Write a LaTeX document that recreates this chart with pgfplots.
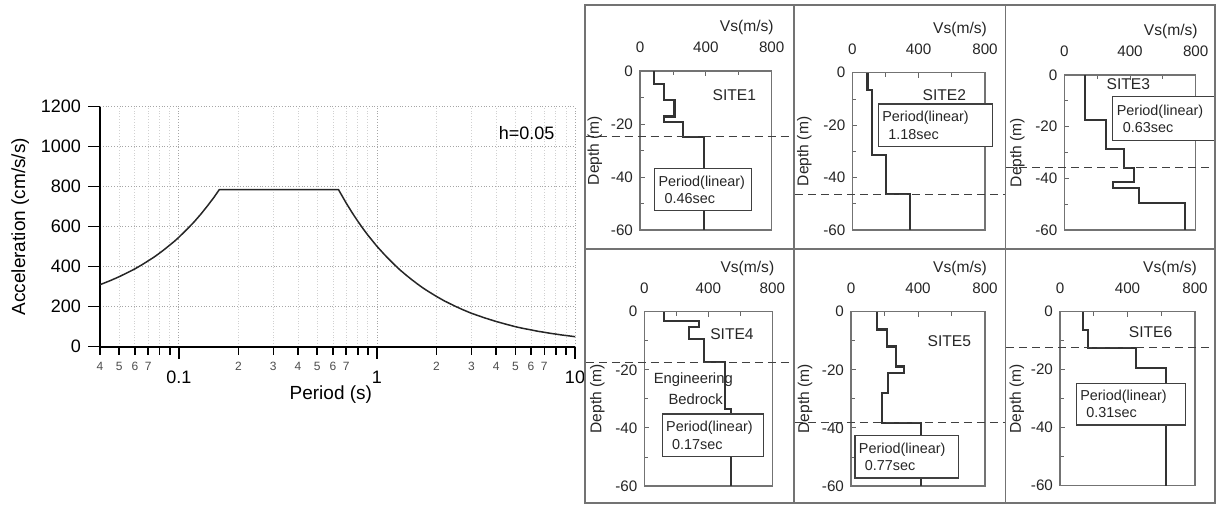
\documentclass[border=0pt]{standalone}
\usepackage{fontspec}
\setmainfont{Liberation Sans}
\usepackage{pgfplots}
\pgfplotsset{compat=1.18}
\tikzset{
  per/.style={draw=black!75, fill=white, line width=0.6pt, anchor=north west, inner xsep=2pt, inner ysep=0pt, align=left, font=\fontsize{7.2}{8.6}\selectfont, text=black!85},
  sitelab/.style={font=\fontsize{7.8}{9}\selectfont, text=black!85},
}
\begin{document}
\begin{tikzpicture}
\useasboundingbox (0,0) rectangle (608.5pt,-253pt);
\pgfplotsset{
  site/.style={
    scale only axis, anchor=north west,
    xmin=0, xmax=800, ymin=-60, ymax=0,
    xtick={0,400,800}, minor xtick={200,600},
    ytick={0,-20,-40,-60}, minor ytick={-10,-30,-50},
    xtick pos=right, xticklabel pos=right, ytick pos=left,
    tick align=inside,
    major tick length=2.5pt, minor tick length=2pt,
    every tick/.style={black!60, line width=0.4pt},
    axis line style={black!55, line width=0.6pt},
    tick label style={font=\fontsize{7.6}{9}\selectfont, text=black!85},
    /pgf/number format/assume math mode=true,
    /pgf/number format/1000 sep={},
    xticklabel style={anchor=base, yshift=9pt},
    xlabel={Vs(m/s)},
    xlabel style={at={(rel axis cs:1,1)}, anchor=base east, xshift=4.5pt, yshift=19.5pt, font=\fontsize{7.8}{9}\selectfont, text=black!85},
    ylabel={Depth (m)},
    ylabel style={font=\fontsize{7.8}{9}\selectfont, anchor=center, text=black!85},
    clip=false,
  },
  prof/.style={line width=1.1pt, black!80, no marks},
  bed/.style={line width=0.5pt, black!75, dash pattern=on 4pt off 2.5pt, no marks},
}
% ---------------- left spectrum ----------------
\begin{axis}[
  at={(50pt,-53.35pt)}, anchor=north west, scale only axis,
  width=237.5pt, height=120pt,
  xmode=log, xmin=0.04, xmax=10, ymin=0, ymax=1200,
  axis x line=bottom, axis y line=left,
  axis line style={-, line width=1pt, black},
  xtick={0.1,1,10}, xticklabels={0.1,1,10},
  minor xtick={0.04,0.05,0.06,0.07,0.08,0.09,0.2,0.3,0.4,0.5,0.6,0.7,0.8,0.9,2,3,4,5,6,7,8,9},
  ytick={0,200,400,600,800,1000,1200},
  tick align=outside, major tick length=6pt, minor tick length=4pt,
  every tick/.style={black, line width=0.8pt},
  grid=both,
  major grid style={densely dotted, black!35, line width=0.4pt},
  minor grid style={densely dotted, black!18, line width=0.4pt},
  tick label style={font=\fontsize{9}{10}\selectfont},
  /pgf/number format/assume math mode=true,
  /pgf/number format/1000 sep={},
  xticklabel style={yshift=-2.5pt},
  extra x ticks={0.04,0.05,0.06,0.07,0.2,0.3,0.4,0.5,0.6,0.7,2,3,4,5,6,7},
  extra x tick labels={4,5,6,7,2,3,4,5,6,7,2,3,4,5,6,7},
  extra x tick style={grid=none, major tick length=4pt, tick label style={yshift=2.5pt, font=\fontsize{6}{7}\selectfont, text=black!70}},
  xlabel={Period (s)}, ylabel={Acceleration (cm/s/s)},
  xlabel style={font=\fontsize{9.5}{11}\selectfont, at={(axis description cs:0.486,0)}, anchor=center, yshift=-24pt},
  ylabel style={font=\fontsize{9.5}{11}\selectfont, at={(axis description cs:-0.168,0.5)}, anchor=center},
]
\addplot[line width=0.75pt, black!85, no marks] coordinates {
(0.04,310)(0.045,330)(0.05,350)(0.055,370)(0.06,389)(0.065,409)(0.07,429)(0.075,448)(0.08,468)(0.085,488)(0.09,508)(0.095,527)(0.1,547)(0.11,587)(0.12,626)(0.13,666)(0.14,706)(0.15,745)(0.16,785)
(0.64,785)(0.7,718)(0.75,670)(0.8,628)(0.85,591)(0.9,558)(1,502)(1.1,457)(1.2,419)(1.3,386)(1.4,359)(1.5,335)(1.6,314)(1.7,295)(1.8,279)(2,251)(2.2,228)(2.5,201)(2.7,186)(3,167)(3.5,144)(4,126)(4.5,112)(5,100)(5.5,91)(6,84)(6.5,77)(7,72)(7.5,67)(8,63)(8.5,59)(9,56)(9.5,53)(10,50)};
\node[font=\fontsize{9}{10}\selectfont] at (axis cs:5.7,1068) {h=0.05};
\end{axis}
% ---------------- SITE1 ----------------
\begin{axis}[site, at={(320pt,-35.5pt)}, width=65.85pt, height=79.5pt, ylabel style={at={(axis description cs:-0.342,0.5)}}]
\addplot[prof] coordinates {(87,0)(87,-5)(148,-5)(148,-11)(209,-11)(209,-17.2)(148,-17.2)(148,-19.1)(259,-19.1)(259,-24.8)(389,-24.8)(389,-60)};
\addplot[bed] coordinates {(-330,-24.8)(930,-24.8)};
\node[sitelab] at (axis cs:573,-9.2) {SITE1};
\node[per, text width=44.5pt, minimum height=21.2pt] at (axis cs:85,-36.5) {Period(linear)\\\hspace*{3pt}0.46sec};
\end{axis}
% ---------------- SITE2 ----------------
\begin{axis}[site, at={(426.15pt,-36.35pt)}, width=66.35pt, height=78.65pt, ylabel style={at={(axis description cs:-0.362,0.5)}}]
\addplot[prof] coordinates {(92,0)(92,-6.6)(121,-6.6)(121,-31.4)(201,-31.4)(201,-46.4)(348,-46.4)(348,-60)};
\addplot[bed] coordinates {(-345,-46.4)(920,-46.4)};
\node[sitelab] at (axis cs:555,-8.7) {SITE2};
\node[per, text width=53pt, minimum height=21.3pt] at (axis cs:153,-11.7) {Period(linear)\\\hspace*{3pt}1.18sec};
\end{axis}
% ---------------- SITE3 ----------------
\begin{axis}[site, at={(532.15pt,-37.5pt)}, width=65.7pt, height=77.5pt, ylabel style={at={(axis description cs:-0.358,0.5)}}]
\addplot[prof] coordinates {(126,0)(126,-17.4)(252,-17.4)(252,-28.5)(363,-28.5)(363,-35.9)(426,-35.9)(426,-41.3)(298,-41.3)(298,-43.6)(457,-43.6)(457,-49.7)(735,-49.7)(735,-60)};
\addplot[bed] coordinates {(-352,-35.9)(912,-35.9)};
\node[sitelab] at (axis cs:390,-3.4) {SITE3};
\node[per, text width=47.3pt, minimum height=22pt] at (axis cs:292,-8.1) {Period(linear)\\\hspace*{3pt}0.63sec};
\end{axis}
% ---------------- SITE4 ----------------
\begin{axis}[site, at={(322.15pt,-155.85pt)}, width=64pt, height=87.15pt, ylabel style={at={(axis description cs:-0.367,0.5)}}]
\addplot[prof] coordinates {(125,0)(125,-3.2)(342,-3.2)(342,-5.4)(279,-5.4)(279,-9.5)(373,-9.5)(373,-17.4)(504,-17.4)(504,-33.5)(540,-33.5)(540,-60)};
\addplot[bed] coordinates {(-365,-17.4)(930,-17.4)};
\node[sitelab] at (axis cs:548,-7.7) {SITE4};
\node[font=\fontsize{7.4}{8}\selectfont, text=black!85] at (axis cs:306,-23.3) {Engineering};
\node[font=\fontsize{7.4}{8}\selectfont, text=black!85] at (axis cs:321,-30.1) {Bedrock};
\node[per, text width=46.5pt, minimum height=21.3pt] at (axis cs:108,-35.0) {Period(linear)\\\hspace*{3pt}0.17sec};
\end{axis}
% ---------------- SITE5 ----------------
\begin{axis}[site, at={(425.5pt,-155.85pt)}, width=67pt, height=87.15pt, ylabel style={at={(axis description cs:-0.343,0.5)}}]
\addplot[prof] coordinates {(157,0)(157,-6.1)(217,-6.1)(217,-12)(267,-12)(267,-18.9)(316,-18.9)(316,-21)(223,-21)(223,-27.9)(187,-27.9)(187,-38.2)(418,-38.2)(418,-60)};
\addplot[bed] coordinates {(-335,-38.2)(918,-38.2)};
\node[sitelab] at (axis cs:587,-10.1) {SITE5};
\node[per, text width=47.7pt, minimum height=21.3pt] at (axis cs:20,-42.4) {Period(linear)\\\hspace*{3pt}0.77sec};
\end{axis}
% ---------------- SITE6 ----------------
\begin{axis}[site, at={(530pt,-155.85pt)}, width=67.5pt, height=87pt, ylabel style={at={(axis description cs:-0.319,0.5)}}]
\addplot[prof] coordinates {(134,0)(134,-6.3)(168,-6.3)(168,-12.6)(450,-12.6)(450,-19.3)(628,-19.3)(628,-60)};
\addplot[bed] coordinates {(-318,-12.4)(912,-12.4)};
\node[sitelab] at (axis cs:537,-7.2) {SITE6};
\node[per, text width=50.7pt, minimum height=20.8pt] at (axis cs:93,-24.5) {Period(linear)\\\hspace*{3pt}0.31sec};
\end{axis}
% ---------------- frame ----------------
\draw[black!55, line width=0.9pt] (292.5pt,-2.5pt) rectangle (607.5pt,-251.5pt);
\draw[black!55, line width=0.9pt] (397pt,-2.5pt) -- (397pt,-251.5pt) (502.75pt,-2.5pt) -- (502.75pt,-251.5pt) (292.5pt,-124.5pt) -- (607.5pt,-124.5pt);
\end{tikzpicture}
\end{document}
